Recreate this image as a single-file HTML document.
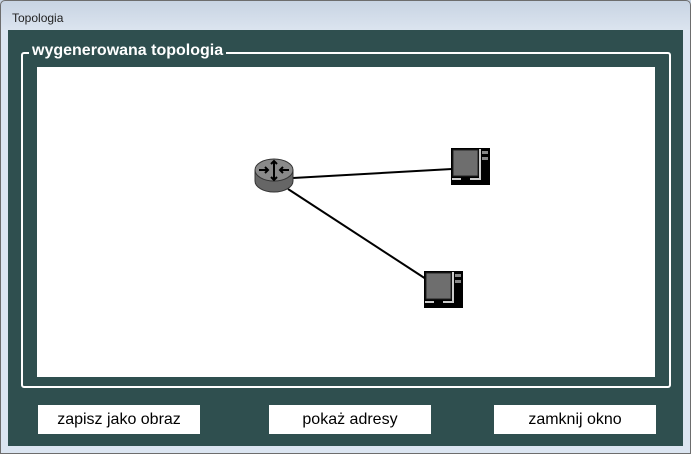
<!DOCTYPE html>
<html><head><style>
body{margin:0;width:691px;height:454px;position:relative;overflow:hidden;background:#dbe5f1;font-family:"Liberation Sans",sans-serif}
.tb{position:absolute;left:0;top:0;width:691px;height:30px;background:linear-gradient(#c7d3e2,#dbe4ef);}
.tt{position:absolute;left:12px;top:11px;font-size:12px;color:#222}
.win{position:absolute;left:0;top:0;width:689px;height:452px;border:1px solid #6d6d6d;border-radius:5px 5px 0 0}
.panel{position:absolute;left:8px;top:30px;width:675px;height:416px;background:#2f4f4f}
.frame{position:absolute;left:21px;top:52px;width:646px;height:332px;border:2px solid #fff;border-radius:3px}
.leg{position:absolute;left:29px;top:42px;padding:0 3px;background:#2f4f4f;color:#fff;font-weight:bold;font-size:16px}
.canvas{position:absolute;left:37px;top:67px;width:618px;height:310px;background:#fff}
.btn{position:absolute;top:405px;height:29px;background:#fff;font-size:16px;text-align:center;line-height:29px;color:#000}
</style></head><body>
<div class="tb"></div><div class="tt">Topologia</div>
<div class="win"></div>
<div class="panel"></div>
<div class="frame"></div>
<div class="leg">wygenerowana topologia</div>
<div class="canvas"></div>
<svg style="position:absolute;left:0;top:0" width="691" height="454">
<line x1="293" y1="178" x2="452" y2="169" stroke="#000" stroke-width="2"/>
<line x1="288" y1="189" x2="426" y2="279" stroke="#000" stroke-width="2"/>
<g>
<path d="M255 170 v11 a19 11 0 0 0 38 0 v-11 z" fill="#666" stroke="#333"/>
<ellipse cx="274" cy="170" rx="19" ry="11" fill="#8a8a8a" stroke="#333"/>
<g stroke="#000" stroke-width="2" fill="none">
<line x1="259" y1="170" x2="268" y2="170"/><path d="M265 167 l3 3 -3 3"/>
<line x1="289" y1="170" x2="280" y2="170"/><path d="M283 167 l-3 3 3 3"/>
<line x1="274" y1="161" x2="274" y2="180"/><path d="M271 164 l3 -3 3 3 M271 177 l3 3 3 -3"/>
</g></g>
<g id="pc">
<rect x="451" y="148" width="39" height="37" fill="#000"/>
<rect x="453" y="150" width="25" height="26" fill="#6e6e6e" stroke="#222"/>
<rect x="482" y="151" width="6" height="3" fill="#888"/><rect x="482" y="157" width="6" height="3" fill="#888"/>
<rect x="452" y="178" width="9" height="2" fill="#ccc"/><rect x="470" y="178" width="9" height="2" fill="#ccc"/>
<rect x="479" y="149" width="2" height="31" fill="#ccc"/>
</g>
<use href="#pc" x="-27" y="123"/>
</svg>
<div class="btn" style="left:38px;width:162px">zapisz jako obraz</div>
<div class="btn" style="left:269px;width:162px">pokaż adresy</div>
<div class="btn" style="left:494px;width:162px">zamknij okno</div>
</body></html>
